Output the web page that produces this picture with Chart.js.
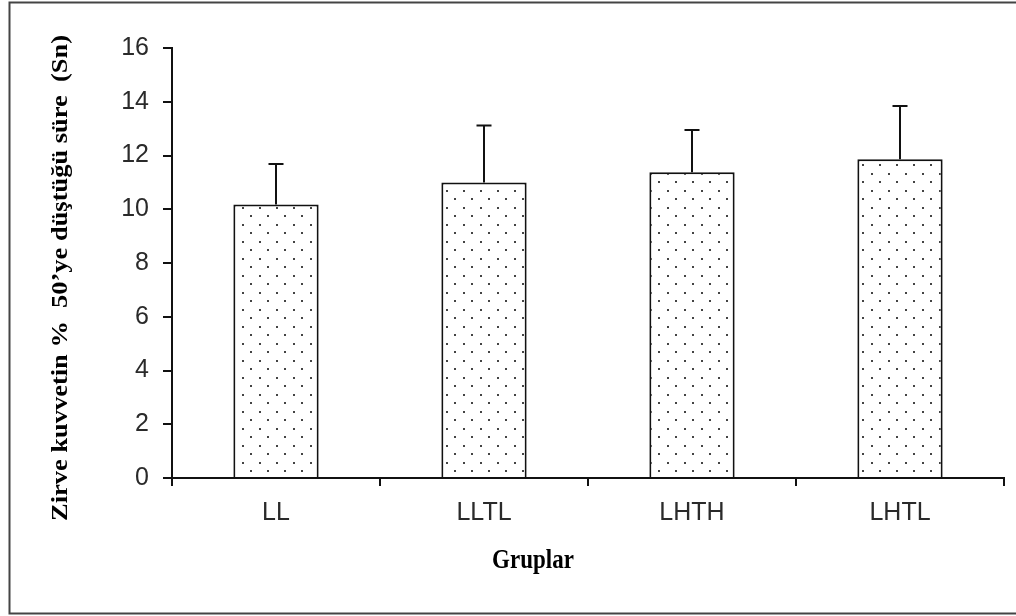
<!DOCTYPE html>
<html>
<head>
<meta charset="utf-8">
<script src="https://cdn.jsdelivr.net/npm/chart.js@4/dist/chart.umd.min.js"></script>
<style>
  html, body { margin: 0; padding: 0; background: #fff; }
  #wrap { width: 1016px; height: 616px; position: relative; }
</style>
</head>
<body>
<div id="wrap"><canvas id="chart" width="1016" height="616"></canvas></div>
<script>
const groups = ['LL', 'LLTL', 'LHTH', 'LHTL'];
const means = [10.18, 11.0, 11.38, 11.86];
const errorTops = [11.68, 13.12, 12.95, 13.84];
const yTicks = [0, 2, 4, 6, 8, 10, 12, 14, 16];

// dotted fill, like the old excel pattern
function dotPattern() {
  const c = document.createElement('canvas');
  c.width = 17; c.height = 17;
  const g = c.getContext('2d');
  g.fillStyle = '#fff';
  g.fillRect(0, 0, 17, 17);
  g.fillStyle = '#444';
  g.fillRect(4, 3, 2, 2);
  g.fillRect(12, 11, 2, 2);
  return g.createPattern(c, 'repeat');
}

const errorBars = {
  id: 'errorBars',
  afterDatasetsDraw(chart) {
    const ctx = chart.ctx;
    const y = chart.scales.y;
    const meta = chart.getDatasetMeta(0);
    ctx.save();
    ctx.strokeStyle = '#111';
    ctx.lineWidth = 2;
    meta.data.forEach((bar, i) => {
      const top = y.getPixelForValue(errorTops[i]);
      ctx.beginPath();
      ctx.moveTo(bar.x, bar.y);
      ctx.lineTo(bar.x, top);
      ctx.moveTo(bar.x - 7.5, top);
      ctx.lineTo(bar.x + 7.5, top);
      ctx.stroke();
    });
    ctx.restore();
  }
};

const frameAndTitles = {
  id: 'frameAndTitles',
  afterDraw(chart) {
    const ctx = chart.ctx;
    ctx.save();
    ctx.strokeStyle = '#444';
    ctx.lineWidth = 2;
    ctx.beginPath();
    ctx.moveTo(1016, 2.5);
    ctx.lineTo(9.5, 2.5);
    ctx.lineTo(9.5, 613.5);
    ctx.lineTo(1016, 613.5);
    ctx.stroke();

    ctx.fillStyle = '#000';
    ctx.font = 'bold 23px "Liberation Serif", "Times New Roman", serif';
    ctx.textAlign = 'center';
    ctx.textBaseline = 'middle';
    ctx.save();
    ctx.translate(533, 561);
    ctx.scale(1, 1.15);
    ctx.fillText('Gruplar', 0, 0);
    ctx.restore();

    // the scan is stretched vertically, so the rotated title is longer
    ctx.translate(61, 278);
    ctx.rotate(-Math.PI / 2);
    ctx.scale(1.15, 1);
    ctx.fillText('Zirve kuvvetin %  50\u2019ye düştüğü süre  (Sn)', 0, 0);
    ctx.restore();
  }
};

new Chart(document.getElementById('chart').getContext('2d'), {
  type: 'bar',
  data: {
    labels: groups,
    datasets: [{
      data: means,
      backgroundColor: dotPattern(),
      borderColor: '#111',
      borderWidth: 2,
      borderSkipped: 'bottom',
      categoryPercentage: 0.41,
      barPercentage: 1.0
    }]
  },
  options: {
    responsive: false,
    animation: false,
    layout: { padding: { left: 0, top: 48, right: 12, bottom: 0 } },
    plugins: { legend: { display: false }, tooltip: { enabled: false } },
    scales: {
      x: {
        offset: true,
        grid: { offset: true, drawOnChartArea: false, drawTicks: true, tickLength: 8, color: '#111', lineWidth: 2 },
        border: { color: '#111', width: 2 },
        ticks: { color: '#2a2a2a', font: { family: '"Liberation Sans", Arial, sans-serif', size: 25 }, padding: 12 },
        afterFit(scale) { scale.height = 138; }
      },
      y: {
        min: 0,
        max: 16,
        afterBuildTicks(scale) { scale.ticks = yTicks.map(v => ({ value: v })); },
        grid: { drawOnChartArea: false, drawTicks: true, tickLength: 9, color: '#111', lineWidth: 2 },
        border: { color: '#111', width: 2 },
        ticks: { color: '#2a2a2a', font: { family: '"Liberation Sans", Arial, sans-serif', size: 25 }, padding: 14 },
        afterFit(scale) { scale.width = 172; }
      }
    }
  },
  plugins: [errorBars, frameAndTitles]
});
</script>
</body>
</html>
